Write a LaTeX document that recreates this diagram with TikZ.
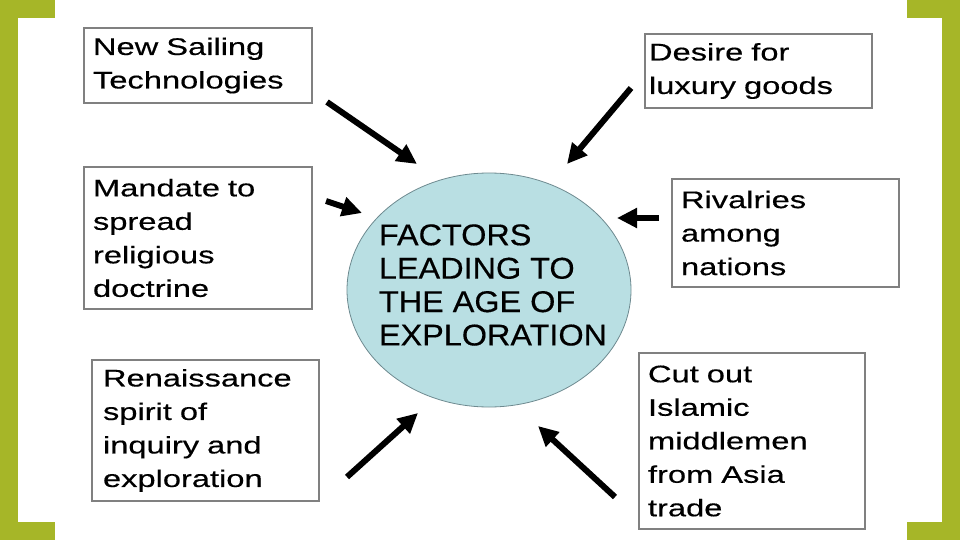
\documentclass[tikz,border=0pt]{standalone}
\usepackage{fontspec}
\usetikzlibrary{arrows.meta,shapes.geometric}
\newfontfamily\boxfont[FakeStretch=1.36,FakeBold=0.4]{Liberation Sans}
\newfontfamily\circfont[FakeStretch=1.08,FakeBold=0.4]{Liberation Sans}
\definecolor{olivebar}{RGB}{166,182,40}
\definecolor{circfill}{RGB}{185,223,227}
\definecolor{circline}{RGB}{110,138,144}
\definecolor{boxline}{RGB}{128,128,128}
\tikzset{
  factorbox/.style={draw=boxline, line width=1.5pt, rectangle, inner ysep=0pt, inner xsep=9pt,
    align=left, font=\boxfont\fontsize{24}{33.5}\selectfont},
  bigarrow/.style={line width=6pt, -{Triangle[length=20pt,width=19pt]}, black},
  bar/.style={fill=olivebar, draw=none}
}
\begin{document}
\begin{tikzpicture}[x=1pt,y=-1pt]
\useasboundingbox (0,0) rectangle (960,540);
\fill[white] (0,0) rectangle (960,540);
% brackets
\fill[bar] (0,0) rectangle (18,540);
\fill[bar] (0,0) rectangle (55,18);
\fill[bar] (0,522) rectangle (55,540);
\fill[bar] (942,0) rectangle (960,540);
\fill[bar] (907,0) rectangle (960,18);
\fill[bar] (907,522) rectangle (960,540);
% centre
\node[ellipse, draw=circline, line width=0.8pt, fill=circfill, minimum width=284pt, minimum height=234pt, inner sep=0pt] (hub) at (489,290) {};
\node[align=left, inner sep=0pt, font=\circfont\fontsize{30}{33.4}\selectfont] (title) at (493,285) {FACTORS\\LEADING TO\\THE AGE OF\\EXPLORATION};
% boxes
\node[factorbox, minimum width=228pt, minimum height=75pt, text width=210pt] (sail) at (198,65.5) {New Sailing\\Technologies};
\node[factorbox, inner xsep=4pt, minimum width=227pt, minimum height=74pt, text width=219pt] (lux) at (758.5,71) {Desire for\\luxury goods};
\node[factorbox, minimum width=228pt, minimum height=142pt, text width=210pt] (relig) at (198,238) {Mandate to\\spread\\religious\\doctrine};
\node[factorbox, minimum width=227pt, minimum height=108pt, text width=209pt] (rival) at (785.5,233) {Rivalries\\among\\nations};
\node[factorbox, inner xsep=11pt, minimum width=227pt, minimum height=141pt, text width=205pt] (ren) at (205.5,430.5) {Renaissance\\spirit of\\inquiry and\\exploration};
\node[factorbox, minimum width=226pt, minimum height=176pt, text width=208pt] (islam) at (752,441) {Cut out\\Islamic\\middlemen\\from Asia\\trade};
% arrow ends
\coordinate (a1s) at (327,102); \coordinate (a1e) at (417,164);
\coordinate (a2s) at (631,88);  \coordinate (a2e) at (567,164);
\coordinate (a3s) at (326,201); \coordinate (a3e) at (362,213);
\coordinate (a4s) at (659,218); \coordinate (a4e) at (617,218);
\coordinate (a5s) at (347,477); \coordinate (a5e) at (418,413);
\coordinate (a6s) at (615,497); \coordinate (a6e) at (538,426);
\draw[bigarrow] (a1s) -- (a1e);
\draw[bigarrow] (a2s) -- (a2e);
\draw[bigarrow] (a3s) -- (a3e);
\draw[bigarrow] (a4s) -- (a4e);
\draw[bigarrow] (a5s) -- (a5e);
\draw[bigarrow] (a6s) -- (a6e);
\end{tikzpicture}
\end{document}
